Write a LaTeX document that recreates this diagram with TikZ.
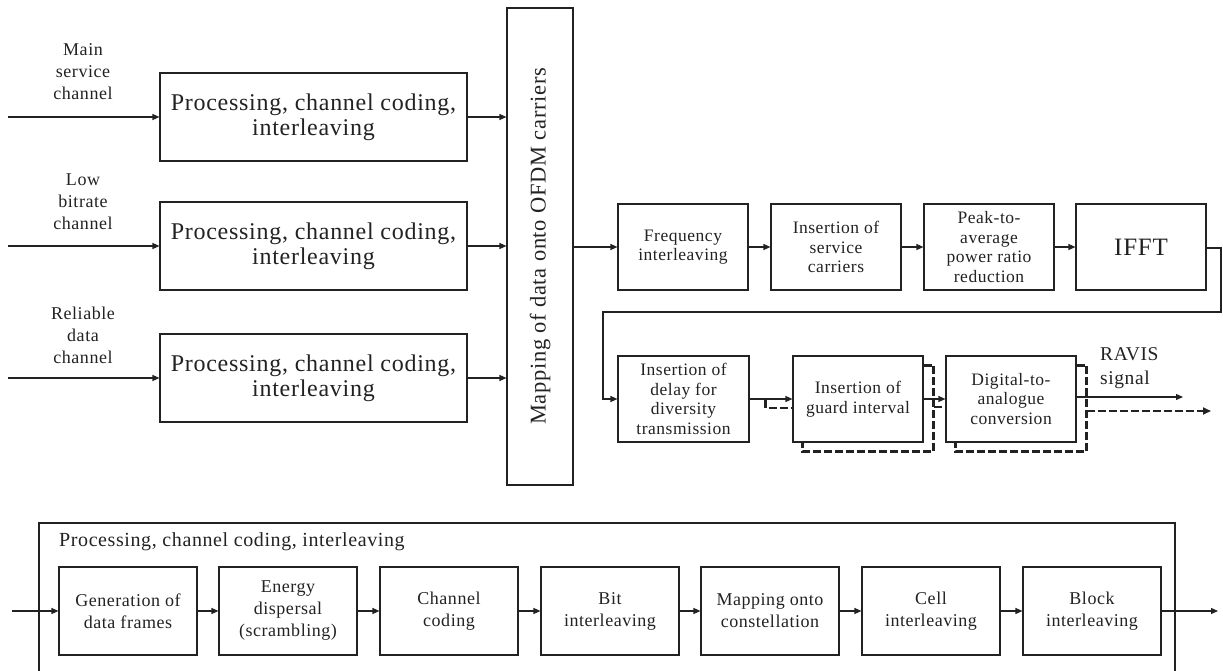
\documentclass[tikz,border=0pt]{standalone}
\usepackage{fontspec}
\setmainfont{Liberation Serif}[LetterSpace=3]
\usetikzlibrary{arrows.meta}
\definecolor{ink}{HTML}{222222}
\tikzset{
  blk/.style={draw=ink, line width=1.1pt, inner sep=2pt, align=center, text=ink},
  pbox/.style={blk, minimum width=307pt, minimum height=88pt, font=\fontsize{24}{25}\selectfont},
  sbox/.style={blk, minimum width=130pt, minimum height=86pt, font=\fontsize{17.5}{19.5}\selectfont},
  bbox/.style={blk, minimum width=138pt, minimum height=88pt, font=\fontsize{18}{22}\selectfont},
  lbl/.style={align=center, inner sep=0pt, text=ink, font=\fontsize{18}{22}\selectfont},
  conn/.style={draw=ink, line width=1.2pt, -{Triangle[length=7pt,width=6pt]}},
  plain/.style={draw=ink, line width=1.2pt},
  dconn/.style={draw=ink, line width=2.3pt, dash pattern=on 8pt off 3pt},
}
\begin{document}
\begin{tikzpicture}[x=1pt,y=-1pt]
\useasboundingbox (0,0) rectangle (1223,671);
\clip (0,0) rectangle (1223,671);
% inputs
\node[lbl] (l1) at (83,72) {Main\\service\\channel};
\node[lbl] (l2) at (83,202) {Low\\bitrate\\channel};
\node[lbl] (l3) at (83,335) {Reliable\\data\\channel};
\coordinate (i1) at (8,117);
\coordinate (i2) at (8,246);
\coordinate (i3) at (8,378);
\node[pbox] (p1) at (313.5,117) {Processing, channel coding,\\interleaving};
\node[pbox] (p2) at (313.5,246) {Processing, channel coding,\\interleaving};
\node[pbox] (p3) at (313.5,378) {Processing, channel coding,\\interleaving};
\node[blk, minimum width=66pt, minimum height=477pt] (map) at (540,246.5) {};
\node[text=ink, rotate=90, inner sep=0pt, font=\fontsize{22.5}{26}\selectfont] (maptxt) at (map.center) {Mapping of data onto OFDM carriers};
\draw[conn] (i1) -- (p1);
\draw[conn] (i2) -- (p2);
\draw[conn] (i3) -- (p3);
\draw[conn] (p1.east) -- (p1.east -| map.west);
\draw[conn] (p2.east) -- (p2.east -| map.west);
\draw[conn] (p3.east) -- (p3.east -| map.west);
% top row
\node[sbox] (fi) at (683,247) {Frequency\\interleaving};
\node[sbox] (sc) at (836,247) {Insertion of\\service\\carriers};
\node[sbox] (pa) at (989,247) {Peak-to-\\average\\power ratio\\reduction};
\node[sbox, font=\fontsize{25}{28}\selectfont] (ifft) at (1141,247) {IFFT};
\draw[conn] (fi.west -| map.east) -- (fi.west);
\draw[conn] (fi) -- (sc);
\draw[conn] (sc) -- (pa);
\draw[conn] (pa) -- (ifft);
% second row
\node[sbox, minimum width=131pt] (dl) at (683.5,399) {Insertion of\\delay for\\diversity\\transmission};
\node[sbox] (gi) at (858,399) {Insertion of\\guard interval};
\node[sbox] (da) at (1011,399) {Digital-to-\\analogue\\conversion};
\coordinate (c1) at (1221,248);
\coordinate (c2) at (603,312);
\draw[conn] (ifft.east |- c1) -| (c1 |- c2) -- (c2) |- (dl.west);
\draw[conn] (dl.east) -- (gi.west);
\draw[conn] (gi.east) -- (da.west);
% shadows
\draw[dconn] ([yshift=-10pt]gi.north east) -| ([xshift=10pt,yshift=-9pt]gi.south east) -| ([xshift=10pt]gi.south west);
\draw[dconn] ([yshift=-10pt]da.north east) -| ([xshift=10pt,yshift=-9pt]da.south east) -| ([xshift=10pt]da.south west);
\draw[dconn] ([xshift=16pt,yshift=-1pt]dl.east) |- ([yshift=-9pt]gi.west);
\draw[dconn] ([xshift=10pt,yshift=-8pt]gi.east) -- ([yshift=-8pt]da.west);
\coordinate (o1) at (1183,397);
\coordinate (o2) at (1211,411);
\draw[conn] (da.east |- o1) -- (o1);
\draw[dconn, -{Triangle[length=8pt,width=7pt]}] ([xshift=10pt]da.east |- o2) -- (o2);
\node[lbl, align=left, anchor=west, font=\fontsize{19.5}{24}\selectfont] (ravis) at (1100,368) {RAVIS\\signal};
% bottom
\draw[plain] (39,700) |- (1175,523) -- (1175,700);
\node[anchor=west, inner sep=0pt, text=ink, font=\fontsize{20}{22}\selectfont] (ttl) at (59,542) {Processing, channel coding, interleaving};
\node[bbox] (b1) at (128,611) {Generation of\\data frames};
\node[bbox] (b2) at (288,611) {Energy\\dispersal\\(scrambling)};
\node[bbox] (b3) at (449,611) {Channel\\coding};
\node[bbox] (b4) at (610,611) {Bit\\interleaving};
\node[bbox] (b5) at (770,611) {Mapping onto\\constellation};
\node[bbox] (b6) at (931,611) {Cell\\interleaving};
\node[bbox] (b7) at (1092,611) {Block\\interleaving};
\coordinate (bi) at (12,611);
\coordinate (bo) at (1218,611);
\draw[conn] (bi) -- (b1);
\draw[conn] (b1) -- (b2);
\draw[conn] (b2) -- (b3);
\draw[conn] (b3) -- (b4);
\draw[conn] (b4) -- (b5);
\draw[conn] (b5) -- (b6);
\draw[conn] (b6) -- (b7);
\draw[conn] (b7) -- (bo);
\end{tikzpicture}
\end{document}
